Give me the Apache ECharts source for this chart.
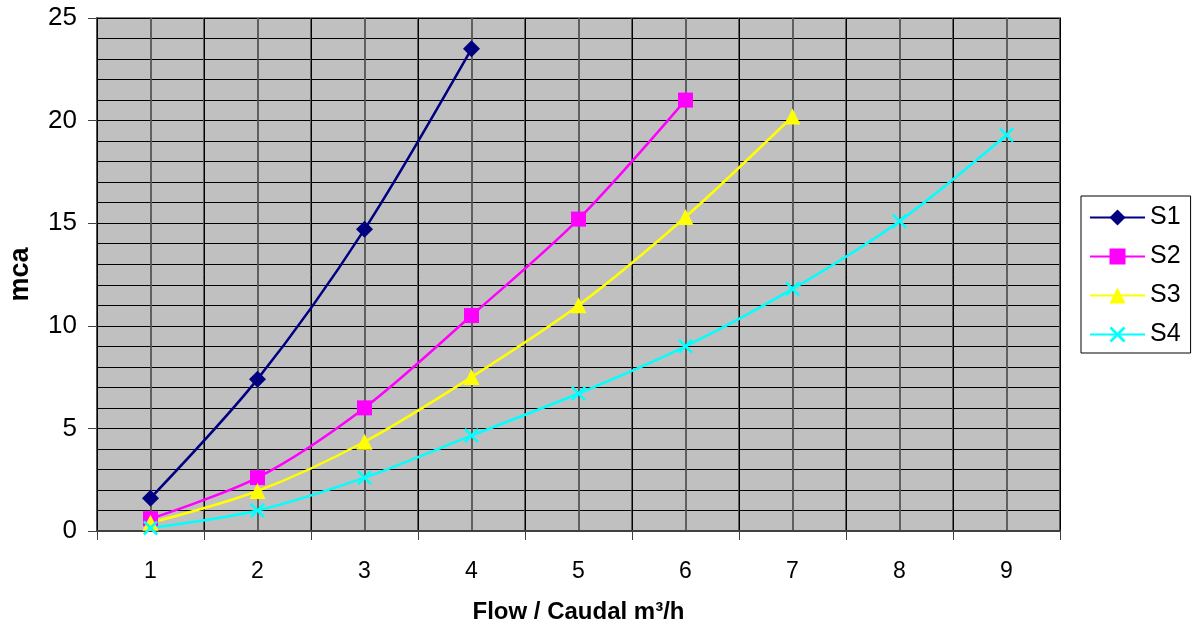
<!DOCTYPE html>
<html><head><meta charset="utf-8">
<script src="https://cdn.jsdelivr.net/npm/echarts@6/dist/echarts.min.js"></script>
<style>html,body{margin:0;padding:0;background:#fff}#c{width:1192px;height:630px}</style>
</head><body><div id="c"></div>
<script>
const categories = ['1','2','3','4','5','6','7','8','9'];
const s1 = [1.6, 7.4, 14.7, 23.5];
const s2 = [0.6, 2.6, 6.0, 10.5, 15.2, 21.0];
const s3 = [0.4, 1.95, 4.35, 7.5, 11.0, 15.3, 20.2];
const s4 = [0.15, 1.0, 2.6, 4.65, 6.7, 9.0, 11.8, 15.1, 19.3];
const seriesNames = ['S1','S2','S3','S4'];
const yTicks = [0, 25, 5];

const xSym = 'path://M0,1.2 L1.2,0 L5,3.8 L8.8,0 L10,1.2 L6.2,5 L10,8.8 L8.8,10 L5,6.2 L1.2,10 L0,8.8 L3.8,5 Z';
const font = 'Liberation Sans, Arial, sans-serif';
const chart = echarts.init(document.getElementById('c'));
function pairs(vals) { return vals.map((v, i) => [Number(categories[i]), v]); }
function mk(name, vals, color, symbol, size) {
  return {name, type:'line', data:pairs(vals), xAxisIndex:1, smooth:0.3, symbol, symbolSize:size,
    lineStyle:{color, width:2.5}, itemStyle:{color}, emphasis:{disabled:true}, z:5};
}
chart.setOption({
  animation:false,
  grid:{left:97, right:132, top:18, bottom:99, outerBoundsMode:'none', containLabel:false,
    show:true, backgroundColor:'#C0C0C0', borderColor:'#808080', borderWidth:2},
  legend:{orient:'vertical', left:1081, top:196, padding:[9,10,6,8], itemGap:14, itemWidth:55, itemHeight:20,
    backgroundColor:'#fff', borderColor:'#000', borderWidth:1,
    textStyle:{fontFamily:font, fontSize:25, color:'#000'}, data:seriesNames},
  xAxis:[{type:'category', data:categories, boundaryGap:true,
    name:'Flow / Caudal m³/h', nameLocation:'middle', nameGap:69,
    nameTextStyle:{fontFamily:font, fontSize:24, fontWeight:'bold', color:'#000'},
    axisLine:{lineStyle:{color:'#404040', width:2}},
    axisTick:{show:true, length:9, lineStyle:{color:'#404040'}},
    axisLabel:{fontFamily:font, fontSize:23, color:'#000', margin:29},
    splitLine:{show:true, interval:0, lineStyle:{color:'#000', width:1}}, z:3},
   {type:'value', min:0.5, max:9.5, interval:0.5, position:'bottom',
    axisLine:{show:false}, axisTick:{show:false}, axisLabel:{show:false},
    splitLine:{show:true, lineStyle:{color:'#555', width:1.8}}, z:1}],
  yAxis:{type:'value', min:yTicks[0], max:yTicks[1], interval:yTicks[2],
    name:'mca', nameLocation:'middle', nameGap:63,
    nameTextStyle:{fontFamily:font, fontSize:27, fontWeight:'bold', color:'#000'},
    axisLine:{show:true, lineStyle:{color:'#404040', width:2}},
    axisTick:{show:true, length:9, lineStyle:{color:'#404040'}},
    axisLabel:{fontFamily:font, fontSize:26, color:'#000', margin:20},
    splitLine:{show:true, lineStyle:{color:'#000', width:1}},
    minorTick:{show:false, splitNumber:5},
    minorSplitLine:{show:true, lineStyle:{color:'#000', width:1}}},
  series:[
    mk('S1', s1, '#000080', 'diamond', 17),
    mk('S2', s2, '#FF00FF', 'rect', 15),
    mk('S3', s3, '#FFFF00', 'triangle', 16),
    mk('S4', s4, '#00FFFF', xSym, 15)
  ]
});
</script></body></html>
